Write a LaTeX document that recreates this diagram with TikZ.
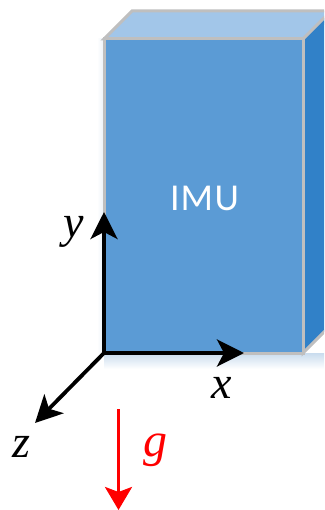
\documentclass[tikz,border=0pt]{standalone}
\usepackage{fontspec}
\setmainfont{Liberation Serif}
\newfontfamily\imufont{Carlito}
\usetikzlibrary{arrows.meta}
\definecolor{frontc}{HTML}{5B9BD5}
\definecolor{topc}{HTML}{A2C6E9}
\definecolor{sidec}{HTML}{3181C8}
\definecolor{edgec}{HTML}{BFBFBF}
\definecolor{shadowc}{HTML}{C9DCEE}
\tikzset{
  face/.style={draw=edgec,line width=3pt,line join=miter},
  axis/.style={draw=black,line width=3.8pt,-{Stealth[length=27pt,width=27pt,inset=7pt]}},
  gravity/.style={draw=red,line width=3.2pt,-{Stealth[length=23pt,width=27pt,inset=5pt]}},
  mathlabel/.style={inner sep=0pt,font=\fontsize{46}{46}\selectfont\itshape}
}
\begin{document}
\begin{tikzpicture}[x=1pt,y=-1pt]
\useasboundingbox (0,0) rectangle (324,510);
\begin{scope}
\clip (0,0) rectangle (324,510);
% soft shadow
\shade[top color=shadowc,bottom color=white] (104,353) rectangle (324,369);
\shade[left color=white,right color=shadowc!40] (97,39) rectangle (104,353);
% box faces
\path[face,fill=topc] (104,39) -- (132,11) -- (340,11) -- (303,39) -- cycle;
\path[face,fill=sidec] (303,39) -- (340,2) -- (340,316) -- (303,353) -- cycle;
\path[face,fill=frontc] (104,39) rectangle (303,353);
\end{scope}
\node[inner sep=0pt,text=white,font=\imufont\fontsize{38}{38}\selectfont] (imu) at (204.5,198) {I\kern1ptM\kern1.5ptU};
\coordinate (origin) at (104,353);
\coordinate (ytip) at (104,212);
\coordinate (xtip) at (244,353);
\coordinate (ztip) at (35,423);
\coordinate (gstart) at (118.5,409);
\coordinate (gtip) at (118.5,510);
\draw[axis] (origin) -- (ytip);
\draw[axis] (origin) -- (xtip);
\draw[axis] (origin) -- (ztip);
\draw[gravity] (gstart) -- (gtip);
\node[mathlabel] (ylabel) at (74,232) {y};
\node[mathlabel] (xlabel) at (222,388) {x};
\node[mathlabel] (zlabel) at (21,447) {z};
\node[mathlabel,text=red,font=\fontsize{48}{48}\selectfont\itshape] (glabel) at (155.5,450) {g};
\end{tikzpicture}
\end{document}
